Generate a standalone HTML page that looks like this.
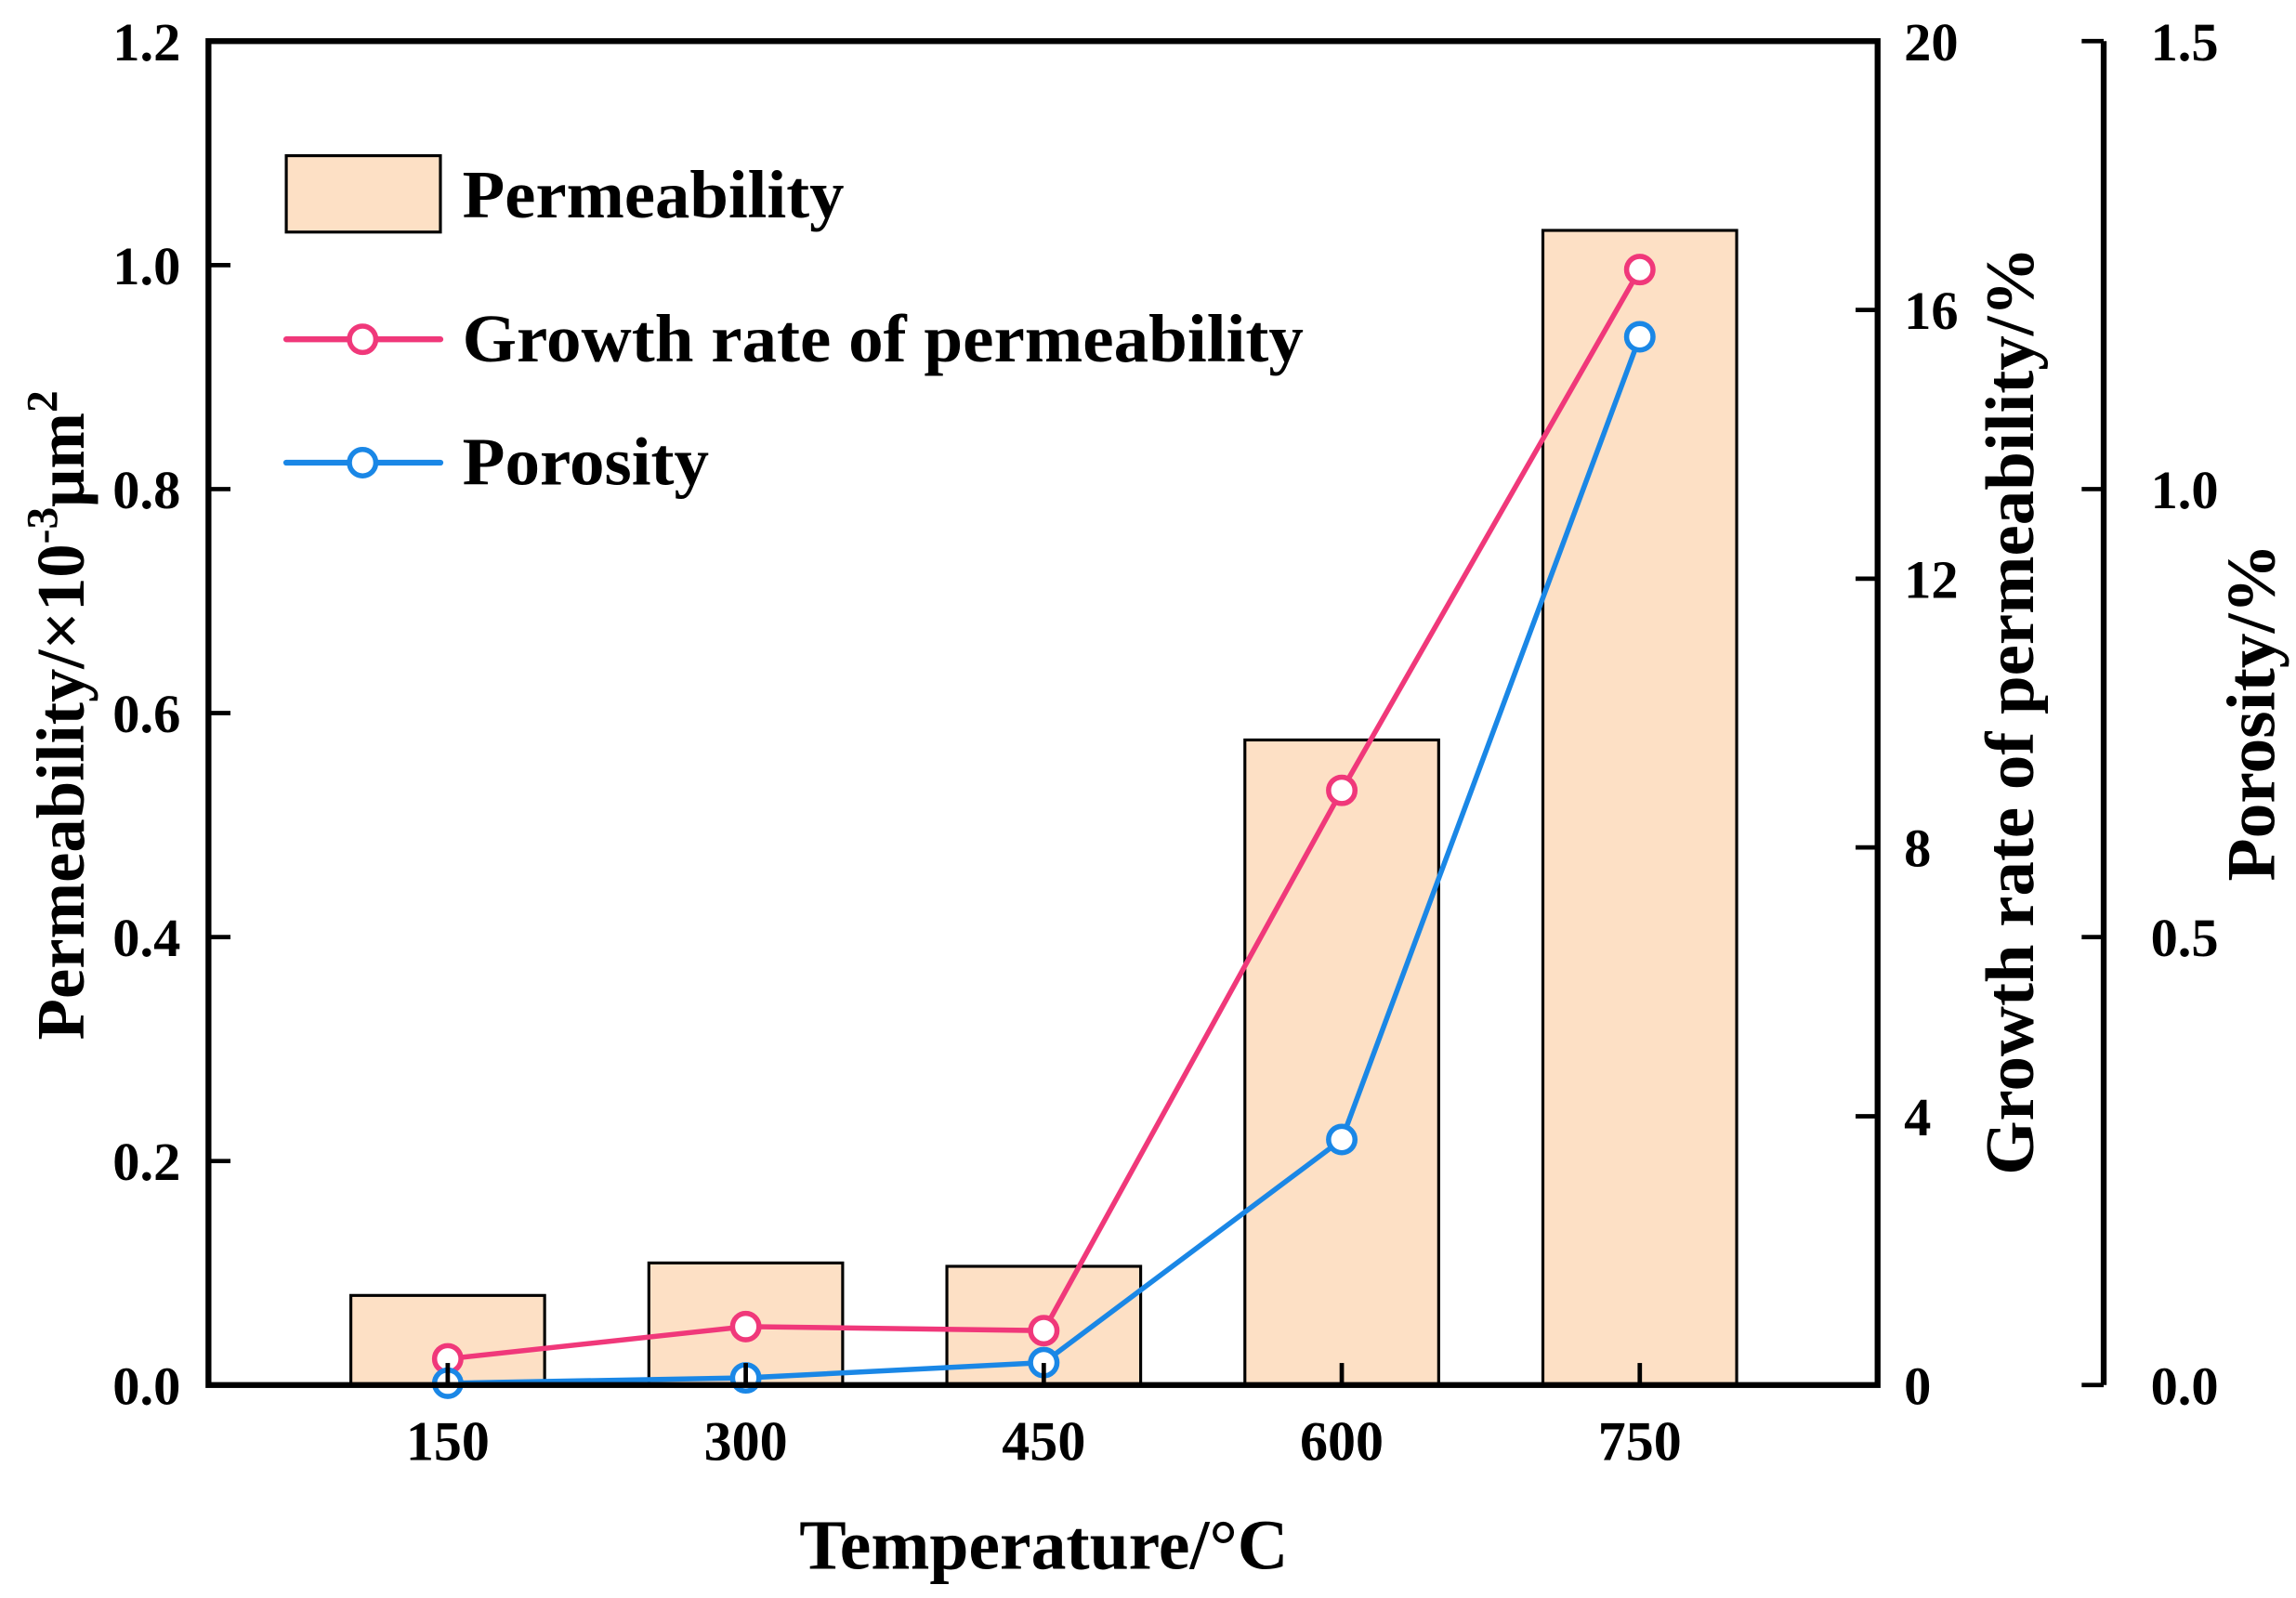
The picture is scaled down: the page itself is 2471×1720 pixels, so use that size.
<!DOCTYPE html>
<html><head><meta charset="utf-8"><style>
html,body{margin:0;padding:0;background:#fff;}
svg{display:block;}
text{font-family:"Liberation Serif",serif;font-weight:bold;fill:#000;}
</style></head><body>
<svg id="chart" width="2471" height="1720" viewBox="0 0 1564 1088" preserveAspectRatio="none" xmlns="http://www.w3.org/2000/svg">
<g id="bars"></g>
<g id="lines"></g>
<g id="axes"></g>
<g>
<rect x="195" y="106" width="105" height="52" fill="#fde0c5" stroke="#000" stroke-width="2"/>
<text x="315" y="148" font-size="46" textLength="260" lengthAdjust="spacingAndGlyphs">Permeability</text>
<line x1="195" y1="231" x2="300" y2="231" stroke="#f0387a" stroke-width="4" stroke-linecap="round"/>
<circle cx="247" cy="231" r="9" fill="#fff" stroke="#f0387a" stroke-width="3.5"/>
<text x="315" y="246" font-size="46" textLength="573" lengthAdjust="spacingAndGlyphs">Growth rate of permeability</text>
<line x1="195" y1="315" x2="300" y2="315" stroke="#1a87e6" stroke-width="4" stroke-linecap="round"/>
<circle cx="247" cy="315" r="9" fill="#fff" stroke="#1a87e6" stroke-width="3.5"/>
<text x="315" y="330" font-size="46" textLength="168" lengthAdjust="spacingAndGlyphs">Porosity</text>
</g>
<text x="711" y="1068" font-size="48" text-anchor="middle" textLength="333" lengthAdjust="spacingAndGlyphs">Temperature/°C</text>
<text transform="translate(57,487) rotate(-90)" font-size="46" text-anchor="middle">Permeability/×10<tspan font-size="30" dy="-18">-3</tspan><tspan dy="18">μm</tspan><tspan font-size="30" dy="-18">2</tspan></text>
<text transform="translate(1385,484) rotate(-90)" font-size="47" text-anchor="middle" textLength="632" lengthAdjust="spacingAndGlyphs">Growth rate of permeability/%</text>
<text transform="translate(1549,485) rotate(-90)" font-size="47" text-anchor="middle" textLength="230" lengthAdjust="spacingAndGlyphs">Porosity/%</text>
</svg>
<script>
const categories = ["150","300","450","600","750"];
const permeability = [0.080, 0.109, 0.106, 0.576, 1.031];
const growthRate = [0.39, 0.87, 0.81, 8.85, 16.6];
const porosity = [0.002, 0.008, 0.025, 0.274, 1.17];
const leftTicks = ["0.0","0.2","0.4","0.6","0.8","1.0","1.2"];
const rightTicks = ["0","4","8","12","16","20"];
const porTicks = ["0.0","0.5","1.0","1.5"];

const NS="http://www.w3.org/2000/svg";
const L=142,R=1279,T=28,B=943,P=1433;
const xPos=i=>L+163+i*203;
const yLeft=v=>B-(v/1.2)*(B-T);
const yRight=v=>B-(v/20)*(B-T);
const yPor=v=>B-(v/1.5)*(B-T);
function mk(tag,attrs,parent){const e=document.createElementNS(NS,tag);for(const k in attrs)e.setAttribute(k,attrs[k]);parent.appendChild(e);return e;}
const gb=document.getElementById('bars'),gl=document.getElementById('lines'),ga=document.getElementById('axes');

permeability.forEach((v,i)=>{
  const r=mk('rect',{x:xPos(i)-66,y:yLeft(v),width:132,height:B-yLeft(v),fill:'#fde0c5',stroke:'#000','stroke-width':2},gb);
  
  
});

function series(vals,yf,color,name){
  const pts=vals.map((v,i)=>xPos(i)+','+yf(v)).join(' ');
  const pl=mk('polyline',{points:pts,fill:'none',stroke:color,'stroke-width':3.5,'stroke-linejoin':'round'},gl);
  
  
  vals.forEach((v,i)=>{
    const c=mk('circle',{cx:xPos(i),cy:yf(v),r:9,fill:'#fff',stroke:color,'stroke-width':3.5},gl);
    
    
  });
}
series(growthRate,yRight,'#f0387a','growth-rate');
series(porosity,yPor,'#1a87e6','porosity');

const fr=mk('rect',{x:L,y:T,width:R-L,height:B-T,fill:'none',stroke:'#000','stroke-width':4},ga);


const pa=mk('line',{x1:P,y1:T,x2:P,y2:B,stroke:'#000','stroke-width':4},ga);



categories.forEach((c,i)=>{
  const t=mk('line',{x1:xPos(i),y1:B,x2:xPos(i),y2:B-15,stroke:'#000','stroke-width':3},ga);
  
  
  const tx=mk('text',{x:xPos(i),y:994,'font-size':38,'text-anchor':'middle'},ga);
  tx.textContent=c;
  
  
});
leftTicks.forEach((s,i)=>{
  const y=yLeft(parseFloat(s));
  const t=mk('line',{x1:L,y1:y,x2:L+15,y2:y,stroke:'#000','stroke-width':3},ga);
  
  
  const tx=mk('text',{x:123,y:y+13,'font-size':37,'text-anchor':'end'},ga);
  tx.textContent=s;
  
  
});
rightTicks.forEach((s,i)=>{
  const y=yRight(parseFloat(s));
  const t=mk('line',{x1:R,y1:y,x2:R-15,y2:y,stroke:'#000','stroke-width':3},ga);
  
  
  const tx=mk('text',{x:1297,y:y+13,'font-size':37},ga);
  tx.textContent=s;
  
  
});
porTicks.forEach((s,i)=>{
  const y=yPor(parseFloat(s));
  const t=mk('line',{x1:P,y1:y,x2:P-15,y2:y,stroke:'#000','stroke-width':3},ga);
  
  
  const tx=mk('text',{x:1465,y:y+13,'font-size':37},ga);
  tx.textContent=s;
  
  
});
</script>
</body></html>
